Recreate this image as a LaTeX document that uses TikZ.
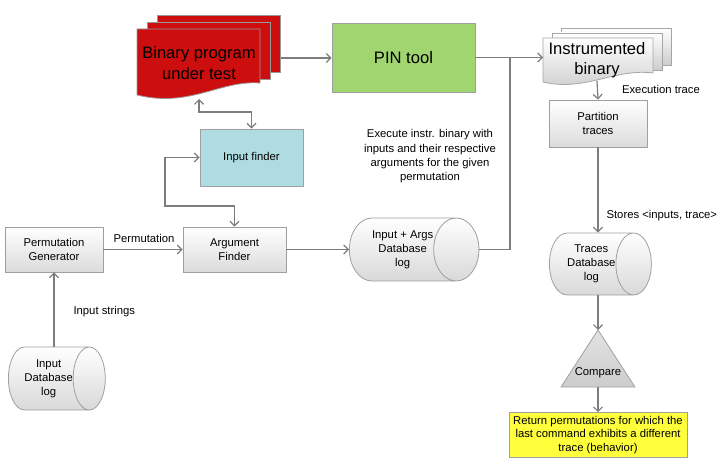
\documentclass[tikz,border=0pt]{standalone}
\usepackage{fontspec}
\setmainfont{Liberation Sans}
\usetikzlibrary{shapes.geometric, arrows.meta, positioning}

\definecolor{lineg}{RGB}{125,125,125}
\definecolor{pingreen}{RGB}{160,213,112}
\definecolor{finderblue}{RGB}{174,220,224}
\definecolor{binred}{RGB}{205,14,14}
\definecolor{retyellow}{RGB}{255,255,60}

\begin{document}
\begin{tikzpicture}[x = 1pt, y = -1pt,
                    >  = {Straight Barb[length=4.5pt, width=9pt]},
                    small/.style = {font=\fontsize{11.3}{13.8}\selectfont, align=center},
                    big/.style   = {font=\fontsize{16.6}{20.5}\selectfont, align=center},
                    box/.style   = {small, draw=gray!75, line width=0.8pt, inner sep=0pt,
                                    top color=white, bottom color=gray!28},
                    db/.style    = {small, cylinder, draw=gray!75, line width=0.8pt, inner sep=0pt,
                                    anchor=west, top color=white, bottom color=gray!30},
                    flow/.style  = {draw=lineg, line width=1.2pt}]

    \useasboundingbox (0,0) rectangle (718,460);

    % stacked sheets
    \foreach \d in {2,1}
        \path[draw=gray!80, line width=0.8pt, fill=binred] (137+10*\d,29-7*\d) rectangle ++(123,57);
    \path[draw=gray!80, line width=0.8pt, fill=binred]
        (137,29) -- (260,29) -- (260,83) .. controls (220,80) and (190,108) .. (137,95) -- cycle;
    \foreach \d in {2,1}
        \path[draw=gray!70, line width=0.8pt, top color=white, bottom color=gray!40] (543+9*\d,38-5*\d) rectangle ++(110,37);
    \path[draw=gray!70, line width=0.8pt, top color=white, bottom color=gray!40]
        (543,38) -- (653,38) -- (653,73) .. controls (615,68) and (585,92) .. (543,82) -- cycle;

    \node[big] (bin)  at (199,63) {Binary program\\under test};
    \node[big] (inst) at (597,60) {Instrumented\\binary};
    \coordinate (binR) at (281,58);
    \coordinate (binB) at (199,99);
    \coordinate (instL) at (543,57.5);
    \coordinate (instB) at (597,81);

    \node[big, draw=gray!75, line width=0.8pt, fill=pingreen, minimum width=143pt, minimum height=69pt] (pin) at (403.5,57.5) {PIN tool};
    \node[small, draw=gray!75, line width=0.8pt, fill=finderblue, minimum width=103pt, minimum height=57pt] (inpf) at (251.5,157.5) {Input finder};

    \node[box, minimum width=98pt, minimum height=45pt] (gen)  at (54,249.5)    {Permutation\\Generator};
    \node[box, minimum width=103pt, minimum height=45pt] (argf) at (234.5,249.5) {Argument\\Finder};
    \node[box, minimum width=98pt, minimum height=47pt] (part) at (598,123.5)   {Partition\\traces};

    % cylinders: minimum width is across, minimum height along the axis
    \node[db, minimum height=111pt, minimum width=63pt, shape aspect=1.2] (argdb) at (349,249.5) {Input + Args\\Database\\log};
    \node[db, minimum height=76pt, minimum width=63pt, shape aspect=0.85] (inpdb) at (8,378.5) {Input\\Database\\log};
    \node[db, minimum height=85pt, minimum width=62pt, shape aspect=0.94] (trdb) at (549,264) {Traces\\Database\\log};

    % compare
    \coordinate (cmpT) at (598,330);
    \coordinate (cmpB) at (598,387);
    \path[draw=gray!75, line width=0.8pt, top color=gray!22, bottom color=gray!40] (cmpT) -- (635,387) -- (561,387) -- cycle;
    \node[small] (cmp) at (598,373) {Compare};

    \node[small, draw=gray!75, line width=0.8pt, fill=retyellow, minimum width=178pt, minimum height=40pt] (ret) at (598,435)
        {Return permutations for which the\\last command exhibits a different\\trace (behavior)};

    % connectors
    \draw[flow, ->] (binR) -- (pin.west |- binR);
    \coordinate (join) at (510,57.5);
    \draw[flow] (pin.east) -- (join);
    \draw[flow] (argdb.east) -| (join);
    \draw[flow, ->] (join) -- (instL);
    \draw[flow, ->] (instB) -- (part.north);
    \draw[flow, ->] (part.south) -- (part.south |- trdb.north);
    \draw[flow, ->] (trdb.south -| cmpT) -- (cmpT);
    \draw[flow, ->] (cmpB) -- (ret.north);
    \draw[flow, ->] (inpdb.north -| gen.south) -- (gen.south);
    \draw[flow, ->] (gen.east) -- (argf.west);
    \draw[flow, ->] (argf.east) -- (argdb.west);
    \draw[flow, <->] (binB) |- (225,112) -| (inpf.north);
    \draw[flow, <->] (inpf.west) -| (165,206) -| (argf.north);

    % labels
    \node[small] (lperm)  at (144,238) {Permutation};
    \node[small, anchor=west] (lstr) at (70,312) {Input strings};
    \node[small] (lexec)  at (661,89) {Execution trace};
    \node[small, anchor=west] (lstore) at (603,216) {Stores <inputs, trace>};
    \node[small, font=\fontsize{11.3}{14.3}\selectfont] (lrun) at (430,156.5)
        {Execute instr. binary with\\inputs and their respective\\arguments for the given\\permutation};
\end{tikzpicture}
\end{document}
